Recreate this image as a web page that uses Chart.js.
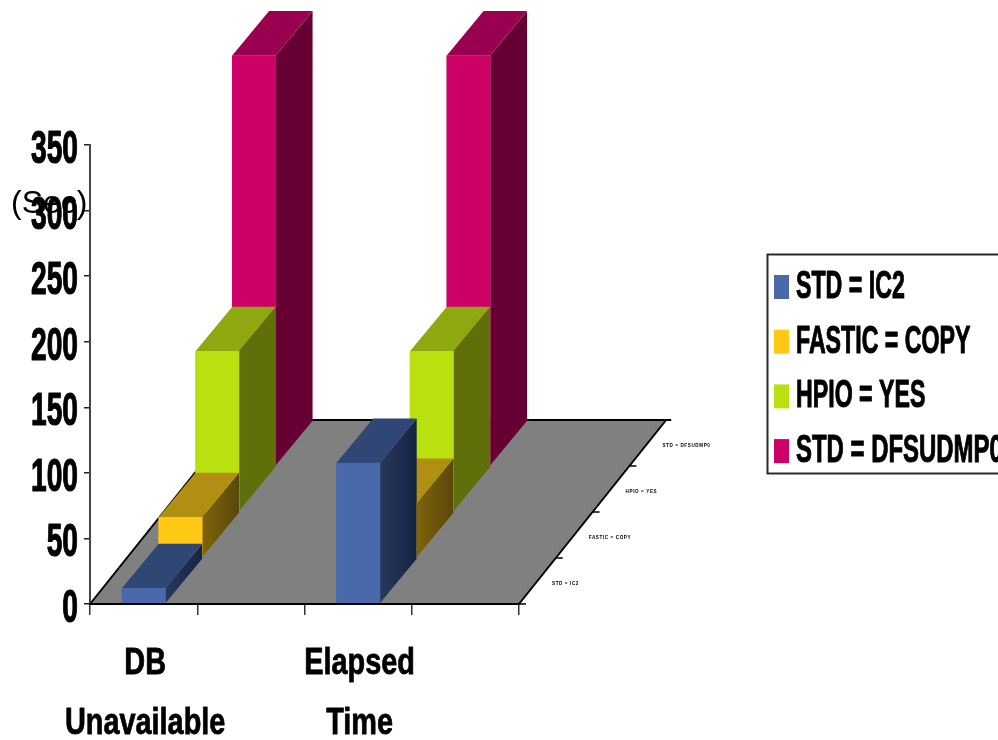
<!DOCTYPE html>
<html lang="en">
<head>
    <meta charset="UTF-8">
    <title>DB Unavailable and Elapsed Time</title>
    <script src="https://cdn.jsdelivr.net/npm/chart.js"></script>
    <style>
        html, body { margin: 0; padding: 0; background: #ffffff; overflow: hidden; }
        #wrap { width: 998px; height: 740px; position: relative; }
    </style>
</head>
<body>
    <div id="wrap"><canvas id="chart"></canvas></div>
    <script>
        // Values
        const categories = [['DB', 'Unavailable'], '', ['Elapsed', 'Time'], ''];
        const seriesNames = ['STD = IC2', 'FASTIC = COPY', 'HPIO = YES', 'STD = DFSUDMP0'];
        const stdIc2 = [12, null, 107.5, null];
        const fasticCopy = [31, null, 42, null];
        const hpioYes = [122.5, null, 122.5, null];
        const stdDfsudmp0 = [313, null, 313, null];
        const yTicks = [0, 50, 100, 150, 200, 250, 300, 350];

        const frontColors = ['#4a69aa', '#ffc814', '#b9e10f', '#cc0066'];
        const topColors = ['#304674', '#b18f13', '#8fa80f', '#990050'];
        const sideColors = [['#28395f', '#162340'], ['#7f640b', '#5a470a'], ['#5f700b', '#5f700b'], ['#660033', '#660033']];

        // one row deeper on the floor
        const stepX = 36.8;
        const stepY = 46;

        function squeezed(ctx, text, x, y, sx, font, align, heft) {
            ctx.save();
            ctx.translate(x, y);
            ctx.scale(sx, 1);
            ctx.font = font;
            ctx.fillStyle = '#000000';
            ctx.textAlign = align;
            ctx.textBaseline = 'alphabetic';
            ctx.fillText(text, 0, 0);
            if (heft) {
                // the original glyphs are heavier than a plain squeezed bold
                ctx.strokeStyle = '#000000';
                ctx.lineWidth = heft;
                ctx.lineJoin = 'round';
                ctx.strokeText(text, 0, 0);
            }
            ctx.restore();
        }

        const bars3d = {
            id: 'bars3d',
            beforeDraw(chart) {
                // floor
                const ctx = chart.ctx, a = chart.chartArea;
                const dx = stepX * seriesNames.length, dy = stepY * seriesNames.length;
                ctx.save();
                ctx.beginPath();
                ctx.moveTo(a.left, a.bottom);
                ctx.lineTo(a.right, a.bottom);
                ctx.lineTo(a.right + dx, a.bottom - dy);
                ctx.lineTo(a.left + dx, a.bottom - dy);
                ctx.closePath();
                ctx.fillStyle = '#808080';
                ctx.fill();
                ctx.strokeStyle = '#000000';
                ctx.lineWidth = 2;
                ctx.beginPath();
                ctx.moveTo(a.left, a.bottom);
                ctx.lineTo(a.left + dx, a.bottom - dy);
                ctx.lineTo(a.right + dx + 5, a.bottom - dy);
                ctx.moveTo(a.right, a.bottom);
                ctx.lineTo(a.right + dx, a.bottom - dy);
                ctx.stroke();
                ctx.restore();
            },
            beforeDatasetDraw(chart, args) {
                const ctx = chart.ctx, i = args.index, meta = args.meta;
                ctx.save();
                ctx.translate(i * stepX, -i * stepY);
                meta.data.forEach((el, j) => {
                    if (chart.data.datasets[i].data[j] == null) return;
                    const l = el.x - el.width / 2, r = el.x + el.width / 2;
                    const dx = stepX, dy = stepY - 1.5;
                    const g = ctx.createLinearGradient(r, 0, r + dx, 0);
                    g.addColorStop(0, sideColors[i][0]);
                    g.addColorStop(1, sideColors[i][1]);
                    ctx.fillStyle = g;
                    ctx.beginPath();
                    ctx.moveTo(r, el.base);
                    ctx.lineTo(r + dx, el.base - dy);
                    ctx.lineTo(r + dx, el.y - dy);
                    ctx.lineTo(r, el.y);
                    ctx.closePath();
                    ctx.fill();
                    ctx.fillStyle = topColors[i];
                    ctx.beginPath();
                    ctx.moveTo(l, el.y);
                    ctx.lineTo(r, el.y);
                    ctx.lineTo(r + dx, el.y - dy);
                    ctx.lineTo(l + dx, el.y - dy);
                    ctx.closePath();
                    ctx.fill();
                });
            },
            afterDatasetDraw(chart) {
                chart.ctx.restore();
            },
            afterDraw(chart) {
                const ctx = chart.ctx, a = chart.chartArea;
                const xs = chart.scales.x, ys = chart.scales.y;

                // axis labels are condensed like the original, so they are drawn here
                ys.ticks.forEach(t => {
                    squeezed(ctx, String(t.value), 78, ys.getPixelForValue(t.value) + 18, 0.6, 'bold 47px "Liberation Sans"', 'right', 1.2);
                });
                categories.forEach((lines, i) => {
                    if (!lines) return;
                    const x = xs.getPixelForValue(i);
                    squeezed(ctx, lines[0], x + 1.5, 674, 0.78, 'bold 37px "Liberation Sans"', 'center', 0.8);
                    squeezed(ctx, lines[1], x + 1.5, 734, 0.78, 'bold 37px "Liberation Sans"', 'center', 0.8);
                });
                squeezed(ctx, '(Sec)', 11, 213, 1, '32px "Liberation Sans"', 'left');

                // depth axis, ticks and tiny labels along the right edge of the floor
                ctx.save();
                ctx.strokeStyle = '#000000';
                ctx.lineWidth = 1.5;
                ctx.font = 'bold 4.6px "Liberation Sans"';
                ctx.letterSpacing = '0.6px';
                ctx.fillStyle = '#000000';
                ctx.textBaseline = 'middle';
                seriesNames.forEach((name, i) => {
                    const tx = a.right + i * stepX, ty = a.bottom - i * stepY;
                    ctx.beginPath();
                    ctx.moveTo(tx, ty);
                    ctx.lineTo(tx + 7, ty);
                    ctx.stroke();
                    ctx.fillText(name, tx + 33, ty - 20);
                });
                ctx.restore();

                // legend box runs off the right side of the page as in the original
                ctx.save();
                ctx.strokeStyle = '#2a2a2a';
                ctx.lineWidth = 2;
                ctx.strokeRect(767.5, 254.5, 240, 219);
                seriesNames.forEach((name, i) => {
                    const base = 298 + i * 54.7;
                    ctx.fillStyle = frontColors[i];
                    ctx.fillRect(774, base - 23, 15, 24);
                    squeezed(ctx, name, 796, base, i === 3 ? 0.63 : 0.61, 'bold 38px "Liberation Sans"', 'left', 1);
                });
                ctx.restore();
            }
        };

        const datasets = [stdIc2, fasticCopy, hpioYes, stdDfsudmp0].map((data, i) => ({
            label: seriesNames[i],
            data: data,
            backgroundColor: frontColors[i],
            barThickness: 43.5,
            grouped: false,
            clip: false
        }));

        new Chart(document.getElementById('chart'), {
            type: 'bar',
            data: { labels: categories, datasets: datasets },
            plugins: [bars3d],
            options: {
                responsive: true,
                maintainAspectRatio: false,
                animation: false,
                layout: { padding: { left: 0, top: 145, right: 479, bottom: 0 } },
                plugins: { legend: { display: false }, tooltip: { enabled: false } },
                scales: {
                    x: {
                        afterFit(scale) { scale.height = 136; },
                        border: { color: '#000000', width: 2, z: 1 },
                        grid: { drawOnChartArea: false, color: '#333333', lineWidth: 1.5, tickLength: 11 },
                        ticks: { display: false, autoSkip: false }
                    },
                    y: {
                        min: 0,
                        max: 350,
                        afterFit(scale) { scale.width = 90; },
                        afterBuildTicks(scale) { scale.ticks = yTicks.map(v => ({ value: v })); },
                        border: { color: '#444444', width: 2 },
                        grid: { drawOnChartArea: false, color: '#222222', lineWidth: 1.5, tickLength: 6 },
                        ticks: { display: false }
                    }
                }
            }
        });
    </script>
</body>
</html>
